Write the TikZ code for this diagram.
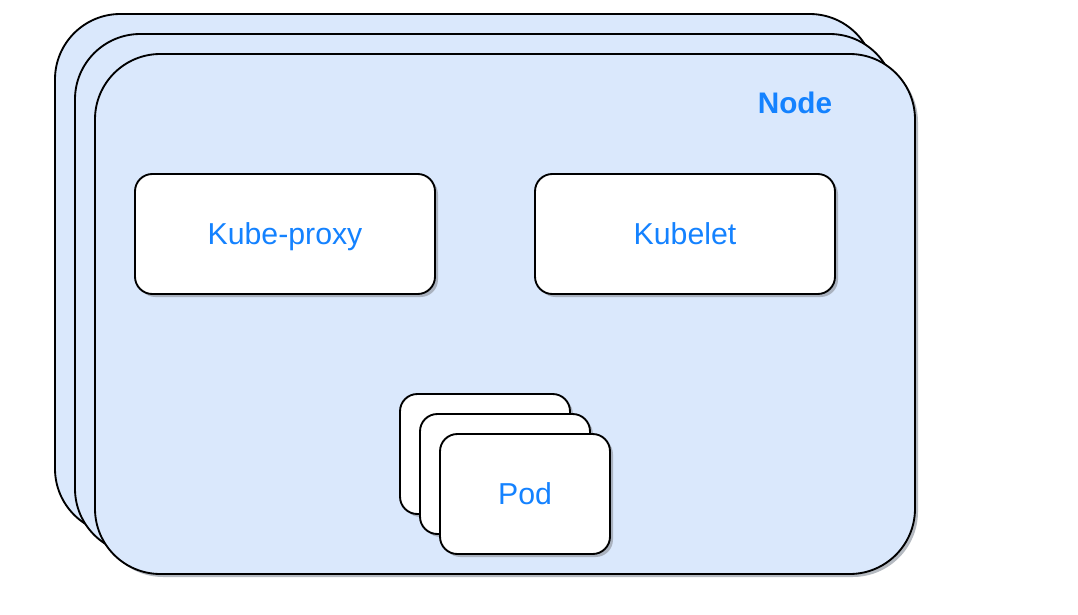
\documentclass[tikz,border=0pt]{standalone}
\usepackage{fontspec}
\setmainfont{Liberation Sans}
\usetikzlibrary{positioning, calc, shadows}
\definecolor{nodefill}{RGB}{218, 232, 252}
\definecolor{kubeblue}{RGB}{20, 130, 255}
\definecolor{shadowgray}{RGB}{150, 156, 166}

\begin{document}
\begin{tikzpicture}[
    x=0.75pt, y=-0.75pt,
    shadowed/.style={drop shadow={shadow xshift=2.25pt, shadow yshift=-2.25pt, fill=shadowgray, opacity=0.7}},
    nodebox/.style={rectangle, rounded corners=49pt, draw=black, line width=1.4pt, fill=nodefill, minimum width=615pt, minimum height=390pt, shadowed},
    compbox/.style={rectangle, rounded corners=13pt, draw=black, line width=1.4pt, fill=white, minimum width=225pt, minimum height=90pt, text=kubeblue, text depth=0pt, font=\fontsize{22.7}{26}\selectfont, shadowed},
    podbox/.style={compbox, minimum width=127.5pt, minimum height=90pt}
]
\useasboundingbox (0,0) rectangle (1078,614);

% Node stack
\node[nodebox] (node1) at (465,274) {};
\node[nodebox] (node2) at ($(node1)+(20,20)$) {};
\node[nodebox] (node3) at ($(node2)+(20,20)$) {};
\node[text=kubeblue, font=\bfseries\fontsize{22.3}{26}\selectfont] (nodelabel) at (795,103) {Node};

% Components
\node[compbox] (proxy) at (285,234) {Kube-proxy};
\node[compbox] (kubelet) at ($(proxy)+(400,0)$) {Kubelet};

% Pod stack
\node[podbox] (pod1) at (485,454) {};
\node[podbox] (pod2) at ($(pod1)+(20,20)$) {};
\node[podbox] (pod3) at ($(pod2)+(20,20)$) {Pod};

\end{tikzpicture}
\end{document}
